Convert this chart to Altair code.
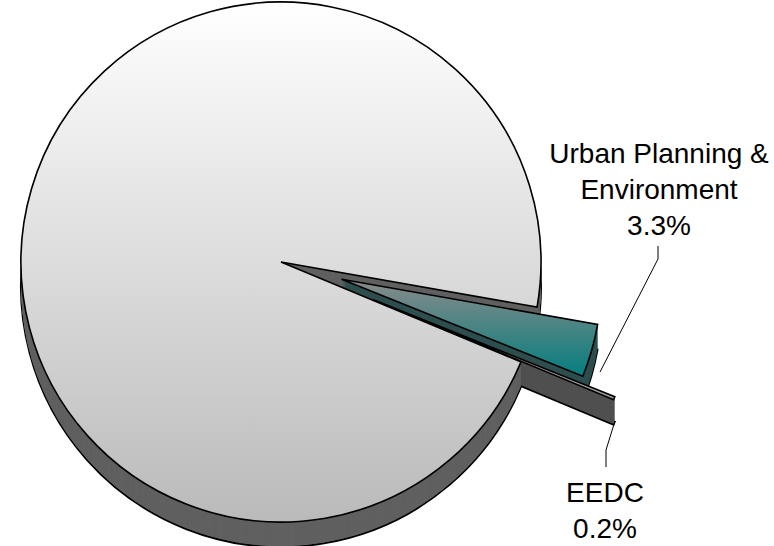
import math
import altair as alt
import pandas as pd

# ---- data ----
categories = ["Urban Planning & Environment", "EEDC", "Other"]
shares = [3.3, 0.2, 96.5]
slice_order = [0, 1, 2]
shown_label = [True, True, False]

df = pd.DataFrame({
    "category": categories,
    "share": shares,
    "order": slice_order,
    "shown": shown_label,
})

# ---- layout / style ----
W, H = 774, 546
CX, CY = 281, 262
R = 260
DEPTH = 25
A0 = math.radians(100)
EXPLODE = ("datum.category === 'EEDC' ? 100 : "
           "(datum.category === 'Urban Planning & Environment' ? 63 : 0)")

theta_scale = alt.Scale(domain=[0, 100], range=[A0, A0 + 2 * math.pi])

base = alt.Chart(df).transform_window(
    end="sum(share)", sort=[alt.SortField("order")], frame=[None, 0]
).transform_calculate(
    start="datum.end - datum.share",
    mid=f"{A0} + PI * (datum.end + datum.end - datum.share) / 100",
    ex=EXPLODE,
).transform_calculate(
    cx=f"{CX} + datum.ex * sin(datum.mid)",
    cy0=f"{CY} - datum.ex * cos(datum.mid)",
)

side_colors = alt.Scale(domain=categories, range=["#2e4f4f", "#505050", "#606060"])

def arc_enc(cyfield):
    return dict(
        theta=alt.Theta("start:Q", scale=theta_scale, stack=None),
        theta2="end:Q",
        x=alt.X("cx:Q", scale=None, axis=None),
        y=alt.Y(f"{cyfield}:Q", scale=None, axis=None),
    )

# bottom rim of the extruded pie (outlined)
bottom = base.transform_calculate(
    cyb=f"datum.cy0 + {DEPTH}"
).mark_arc(radius=R, stroke="black", strokeWidth=1.8).encode(
    color=alt.Color("category:N", scale=side_colors, legend=None),
    **arc_enc("cyb"),
)

# side walls: stacked copies between bottom and top
sides = base.transform_calculate(
    depth=f"sequence(1, {DEPTH})"
).transform_flatten(["depth"]).transform_calculate(
    cys="datum.cy0 + datum.depth"
).mark_arc(radius=R, strokeWidth=0).encode(
    color=alt.Color("category:N", scale=side_colors, legend=None),
    order=alt.Order("depth:Q", sort="descending"),
    **arc_enc("cys"),
)

def top_face(cat, grad):
    return base.transform_filter(alt.datum.category == cat).mark_arc(
        radius=R, color=grad, stroke="black", strokeWidth=1.6
    ).encode(**arc_enc("cy0"))

grey_grad = alt.LinearGradient(
    gradient="linear", x1=0, y1=0, x2=0, y2=1,
    stops=[alt.GradientStop(color="#ffffff", offset=0),
           alt.GradientStop(color="#bababa", offset=1)],
)
teal_grad = alt.LinearGradient(
    gradient="linear", x1=0, y1=0, x2=0, y2=1,
    stops=[alt.GradientStop(color="#8a8a8a", offset=0),
           alt.GradientStop(color="#047e7e", offset=1)],
)
eedc_grad = alt.LinearGradient(
    gradient="linear", x1=0, y1=0, x2=0, y2=1,
    stops=[alt.GradientStop(color="#c8c8c8", offset=0),
           alt.GradientStop(color="#9a9a9a", offset=1)],
)

tops = [
    top_face("Other", grey_grad),
    top_face("EEDC", eedc_grad),
    top_face("Urban Planning & Environment", teal_grad),
]

# labels
FONT = "Liberation Sans"
labels = base.transform_filter(alt.datum.shown).transform_calculate(
    label="replace(datum.category, '& ', '&\\n') + '\\n' + format(datum.share, '.1f') + '%'",
    lx="datum.category === 'EEDC' ? 605 : 659",
    ly="datum.category === 'EEDC' ? 502 : 163",
).mark_text(
    font=FONT, fontSize=28, lineHeight=36, align="center", baseline="alphabetic",
    lineBreak="\n", color="black",
).encode(
    x=alt.X("lx:Q", scale=None, axis=None),
    y=alt.Y("ly:Q", scale=None, axis=None),
    text="label:N",
)

def seg(x1, y1, x2, y2):
    return alt.Chart(df).transform_filter("datum.order === 0").mark_rule(
        color="black", strokeWidth=1
    ).encode(x=alt.value(x1), y=alt.value(y1), x2=alt.value(x2), y2=alt.value(y2))

leaders = [
    seg(658, 246, 658, 259),
    seg(658, 259, 600, 372),
    seg(615, 421, 606, 450),
    seg(606, 450, 606, 467),
]

chart = alt.layer(bottom, sides, *tops, *leaders, labels).properties(
    width=W, height=H, padding=0, autosize=alt.AutoSizeParams(type="none"),
    background="white",
).configure_view(stroke=None)

chart.save("out.html", embed_options={"renderer": "svg", "actions": False})
